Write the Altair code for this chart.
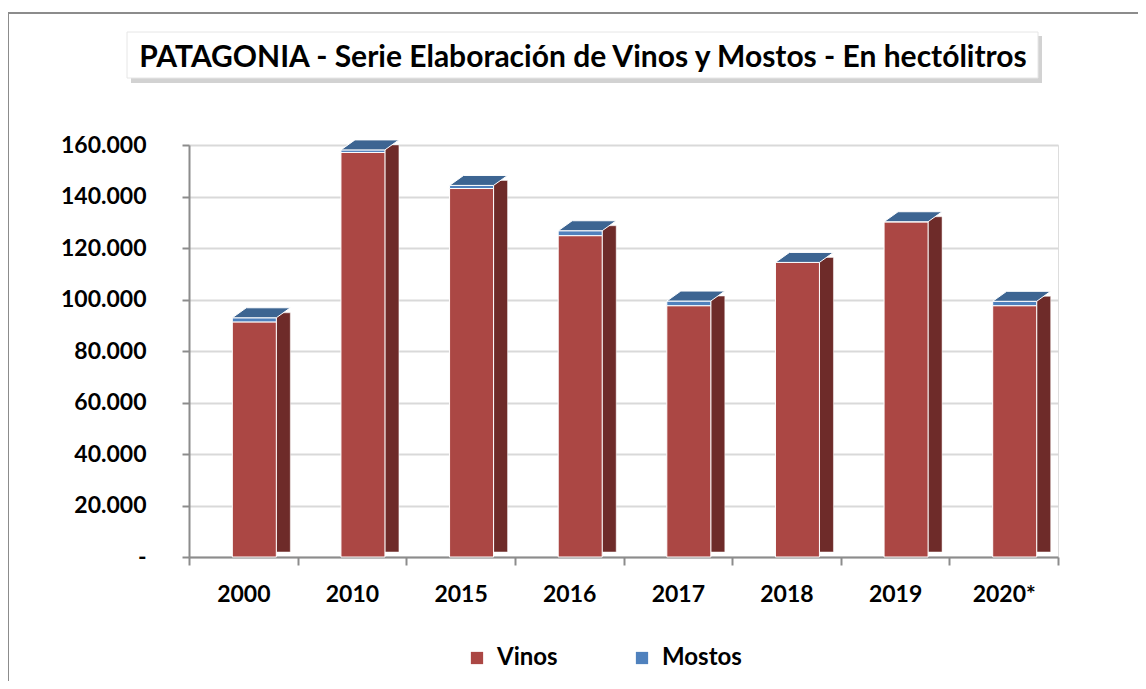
import altair as alt
import pandas as pd

years = ["2000", "2010", "2015", "2016", "2017", "2018", "2019", "2020*"]
vinos = [91300, 157100, 143100, 124800, 97600, 114400, 130200, 97600]
mostos = [1600, 1000, 1200, 1900, 1800, 0, 0, 1700]
series = ["Vinos", "Mostos"]
colors = ["#AB4744", "#4F81BD"]
y_ticks = [0, 20000, 40000, 60000, 80000, 100000, 120000, 140000, 160000]
title_text = "PATAGONIA - Serie Elaboración de Vinos y Mostos - En hectólitros"

rows = []
for i, yr in enumerate(years):
    rows.append({"year": yr, "serie": "Vinos", "orden": 0, "valor": vinos[i]})
    rows.append({"year": yr, "serie": "Mostos", "orden": 1, "valor": mostos[i]})
df = pd.DataFrame(rows)
df_tot = pd.DataFrame({"year": years, "total": [v + m for v, m in zip(vinos, mostos)]})

FONT = "Lato"
W, H = 869, 412

xscale = alt.Scale(type="band", paddingInner=0, paddingOuter=0)
xaxis = alt.Axis(labelAngle=0, tickBand="extent", tickSize=8,
                 tickColor="#8C8C8C", domainColor="#8C8C8C",
                 domainWidth=2, tickWidth=2,
                 labelFont=FONT, labelFontSize=23, labelFontWeight="bold",
                 labelColor="black", labelPadding=18, grid=False)
xenc = alt.X("year:N", sort=years, title=None, scale=xscale, axis=xaxis)
yscale = alt.Scale(domain=[0, 160000], nice=False)
yaxis = alt.Axis(values=y_ticks, tickSize=7, tickColor="#8C8C8C",
                 domainColor="#8C8C8C", domainWidth=2, tickWidth=2,
                 gridColor="#D9D9D9", gridWidth=2,
                 labelFont=FONT, labelFontSize=23, labelFontWeight="bold",
                 labelColor="black", labelPadding=36,
                 labelExpr="datum.value == 0 ? '-' : replace(format(datum.value, ',.0f'), regexp(',', 'g'), '.')")

bars = alt.Chart(df).mark_bar(stroke="white", strokeWidth=1, width=44, xOffset=11).encode(
    x=xenc,
    y=alt.Y("valor:Q", stack="zero", title=None, scale=yscale, axis=yaxis),
    color=alt.Color("serie:N", sort=series,
                    scale=alt.Scale(domain=series, range=colors),
                    legend=alt.Legend(title=None, orient="none", direction="horizontal",
                                      legendX=276, legendY=501,
                                      symbolType="square", symbolSize=150,
                                      symbolStrokeWidth=0, labelFont=FONT,
                                      labelFontSize=24, labelFontWeight="bold",
                                      labelColor="black", labelOffset=8,
                                      columnPadding=72)),
    order=alt.Order("orden:Q"),
)

side = alt.Chart(df_tot).mark_bar(color="#6E2B29", stroke="white", strokeWidth=0.5,
                                  width=14, xOffset=40, yOffset=-5).encode(
    x=xenc,
    y=alt.Y("total:Q", title=None, scale=yscale, axis=yaxis),
)

top_shape = "M -1 0.172 L 0.517 0.172 L 1 -0.172 L -0.517 -0.172 Z"
top = alt.Chart(df_tot).mark_point(shape=top_shape, size=3364, filled=True,
                                   fill="#3D6592", opacity=1, stroke="white",
                                   strokeWidth=1, xOffset=18, yOffset=-5).encode(
    x=xenc,
    y=alt.Y("total:Q", title=None, scale=yscale, axis=yaxis),
)

one = alt.Data(values=[{}])

frame = alt.Chart(one).mark_rect(fill=None, stroke="#8C8C8C", strokeWidth=2).encode(
    x=alt.value(-181), x2=alt.value(980), y=alt.value(-132), y2=alt.value(560)
)
shadow = alt.Chart(one).mark_rect(fill="#BFBFBF", opacity=0.7).encode(
    x=alt.value(-58), x2=alt.value(853), y=alt.value(-109), y2=alt.value(-62)
)
box = alt.Chart(one).mark_rect(fill="white", stroke="#E6E6E6", strokeWidth=1).encode(
    x=alt.value(-62), x2=alt.value(849), y=alt.value(-113), y2=alt.value(-67)
)
title = alt.Chart(one).mark_text(font=FONT, fontSize=30, fontWeight="bold",
                                 color="black", align="center",
                                 baseline="alphabetic").encode(
    x=alt.value(394), y=alt.value(-78), text=alt.value(title_text)
)

chart = alt.layer(frame, shadow, box, title, side, bars, top).properties(
    width=W, height=H,
    autosize=alt.AutoSizeParams(type="none"),
    padding={"left": 181, "top": 137, "right": 80, "bottom": 124},
).configure_view(stroke=None).configure(background="white")

chart.save("out.html", embed_options={"renderer": "svg", "actions": False})
